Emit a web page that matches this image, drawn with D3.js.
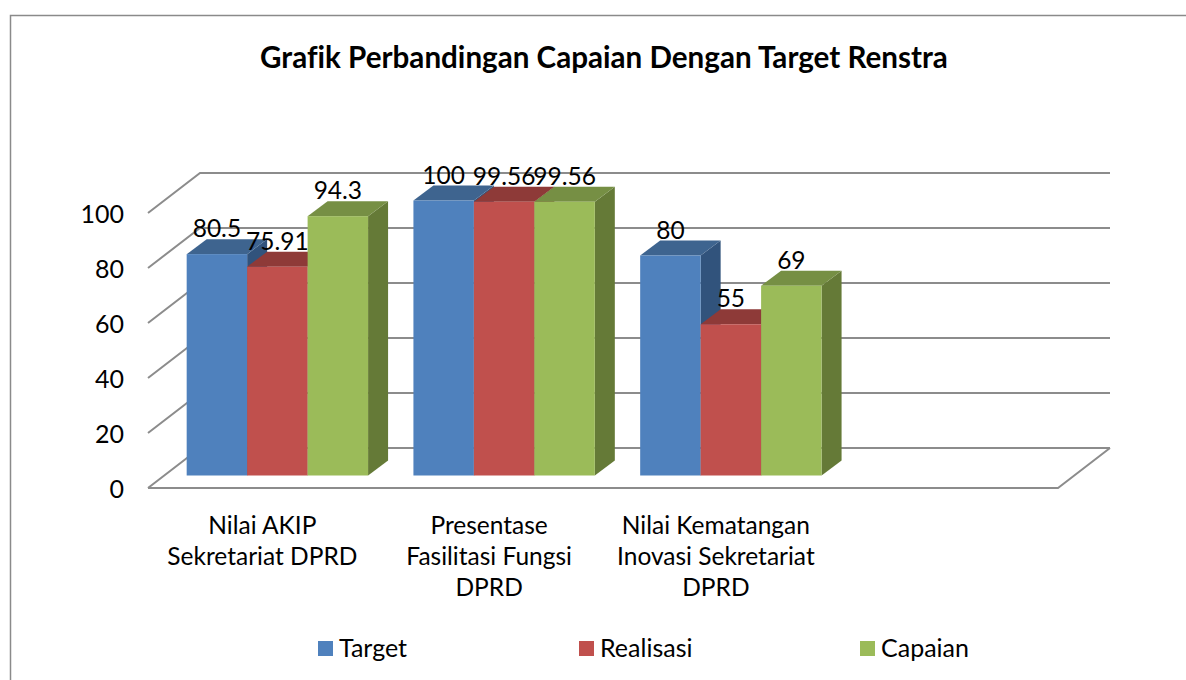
<!DOCTYPE html>
<html>
<head>
<meta charset="utf-8">
<script src="https://cdn.jsdelivr.net/npm/d3@7"></script>
<style>
  html, body { margin: 0; padding: 0; background: #fff; overflow: hidden; }
  text { font-family: Lato, "Open Sans", sans-serif; fill: #000; font-variant-ligatures: none; }
</style>
</head>
<body>
<svg id="chart" width="1186" height="680"></svg>
<script>
var title = "Grafik Perbandingan Capaian Dengan Target Renstra";
var categories = ["Nilai AKIP", "Presentase", "Nilai Kematangan"];
var categoryLines = [
	["Nilai AKIP", "Sekretariat DPRD"],
	["Presentase", "Fasilitasi Fungsi", "DPRD"],
	["Nilai Kematangan", "Inovasi Sekretariat", "DPRD"]
];
var seriesNames = ["Target", "Realisasi", "Capaian"];
var target = [80.5, 100, 80];
var realisasi = [75.91, 99.56, 55];
var capaian = [94.3, 99.56, 69];
var yTicks = [0, 20, 40, 60, 80, 100];

var colors = ["#4f81bd", "#c0504d", "#9bbb59"];
var topColors = ["#3e648f", "#8e3a38", "#768f44"];
var sideColors = ["#31537c", "#7a3332", "#657a37"];
var gridColor = "#8c8c8c";

var svg = d3.select("#chart");
var seriesValues = [target, realisasi, capaian];

// depth of the floor and of the bars (fake 3d)
var wallDx = 52, wallDy = -40;
var barDx = 20, barDy = -15, barLift = 12.5;
var left = 148, right = 1058;

var y = d3.scaleLinear().domain([0, 100]).range([488, 213]);
// the 4th empty slot is there on purpose, the source chart has a blank category
var x0 = d3.scaleBand().domain(categories.concat([""])).range([164, 1071]).paddingInner(0.2).paddingOuter(0.1);
var x1 = d3.scaleBand().domain(seriesNames).range([0, x0.bandwidth()]);

// frame
svg.append("path")
	.attr("d", "M10.5,680V15.5H1186")
	.attr("fill", "none").attr("stroke", "#8a8a8a").attr("stroke-width", 1.5);

// title
svg.append("text").attr("x", 604).attr("y", 68)
	.attr("text-anchor", "middle")
	.attr("font-size", 29.6).attr("font-weight", 700)
	.text(title);

// walls and grid
var grid = svg.append("g").attr("fill", "none").attr("stroke", gridColor).attr("stroke-width", 2);
yTicks.forEach(function(t){
	var p = d3.path();
	p.moveTo(left, y(t));
	p.lineTo(left + wallDx, y(t) + wallDy);
	p.lineTo(right + wallDx, y(t) + wallDy);
	grid.append("path").attr("d", p.toString());
});
grid.append("path").attr("d", "M" + left + "," + y(0) + "H" + right + "l" + wallDx + "," + wallDy);

// y axis
var yAxis = svg.append("g")
	.attr("transform", "translate(128,1)")
	.call(d3.axisLeft(y).tickValues(yTicks).tickSize(0).tickPadding(4));
yAxis.select(".domain").remove();
yAxis.selectAll("text").attr("font-size", 25).style("font-family", "Lato");

// bars
categories.forEach(function(cat, c){
	seriesNames.forEach(function(name, s){
		var v = seriesValues[s][c];
		var xa = x0(cat) + x1(name), w = x1.bandwidth();
		var yt = y(v) - barLift, yb = y(0) - barLift;
		var g = svg.append("g").attr("class", "bar");
		g.append("polygon").attr("fill", sideColors[s])
			.attr("points", [[xa + w, yt], [xa + w + barDx, yt + barDy], [xa + w + barDx, yb + barDy], [xa + w, yb]].join(" "));
		g.append("polygon").attr("fill", topColors[s])
			.attr("points", [[xa, yt], [xa + barDx, yt + barDy], [xa + w + barDx, yt + barDy], [xa + w, yt]].join(" "));
		g.append("rect").attr("x", xa).attr("y", yt).attr("width", w).attr("height", yb - yt).attr("fill", colors[s]);
	});
});

// value labels go on top of every bar
categories.forEach(function(cat, c){
	seriesNames.forEach(function(name, s){
		var v = seriesValues[s][c];
		svg.append("text")
			.attr("x", x0(cat) + x1(name) + x1.bandwidth() / 2)
			.attr("y", y(v) - barLift - 17)
			.attr("text-anchor", "middle")
			.attr("font-size", 24.5)
			.text(v);
	});
});

// category labels
categories.forEach(function(cat, c){
	var t = svg.append("text").attr("text-anchor", "middle").attr("font-size", 24.5);
	categoryLines[c].forEach(function(line, i){
		t.append("tspan")
			.attr("x", x0(cat) + x0.bandwidth() / 2 - 15)
			.attr("y", 534 + i * 31)
			.text(line);
	});
});

// legend
var legendX = [318, 579, 860];
seriesNames.forEach(function(name, s){
	svg.append("rect").attr("x", legendX[s]).attr("y", 641).attr("width", 15).attr("height", 15).attr("fill", colors[s]);
	svg.append("text").attr("x", legendX[s] + 21).attr("y", 657).attr("font-size", 25).text(name);
});
</script>
</body>
</html>
